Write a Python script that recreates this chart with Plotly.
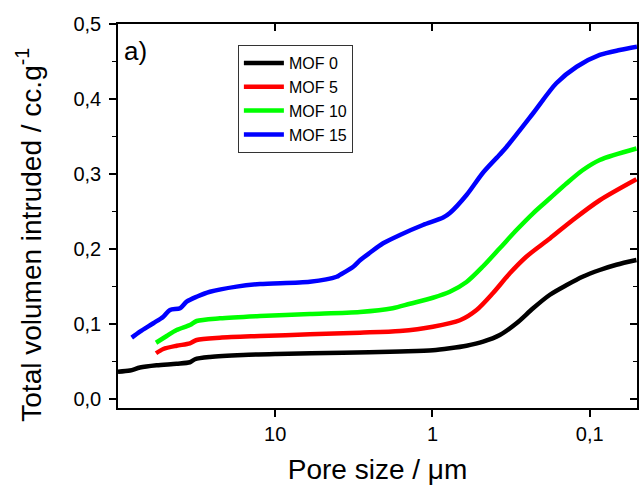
import plotly.graph_objects as go

# Pore size (µm) and cumulative intruded volume (cc/g)
mof0_x = [100, 83.9, 72.5, 56.8, 42.4, 34.9, 32.4, 26.0, 16.0, 9.80, 3.71, 1.61, 0.994,
          0.775, 0.607, 0.476, 0.373, 0.292, 0.229, 0.179, 0.140, 0.111, 0.0863, 0.0676, 0.0504]
mof0_y = [0.0364, 0.038, 0.042, 0.045, 0.047, 0.049, 0.053, 0.056, 0.0587, 0.060, 0.0617, 0.0635, 0.065,
          0.0676, 0.071, 0.0764, 0.0853, 0.101, 0.121, 0.139, 0.152, 0.163, 0.172, 0.179, 0.1853]

mof5_x = [57.3, 51.5, 42.4, 34.9, 31.6, 22.5, 12.5, 6.02, 2.89, 1.61, 0.994, 0.669, 0.524,
          0.413, 0.322, 0.252, 0.179, 0.128, 0.0863, 0.0504]
mof5_y = [0.061, 0.0667, 0.071, 0.0742, 0.0787, 0.0818, 0.084, 0.0862, 0.0884, 0.0907, 0.0964, 0.105, 0.1187,
          0.141, 0.1676, 0.19, 0.214, 0.2387, 0.265, 0.293]

mof10_x = [57.3, 49.0, 42.4, 34.9, 31.6, 22.5, 12.5, 6.02, 2.89, 1.79, 1.39, 0.994, 0.775, 0.607,
           0.476, 0.373, 0.292, 0.229, 0.179, 0.140, 0.111, 0.0863, 0.0504]
mof10_y = [0.075, 0.084, 0.092, 0.0987, 0.104, 0.1076, 0.1107, 0.1133, 0.116, 0.121, 0.127, 0.135, 0.143, 0.156,
           0.177, 0.201, 0.2253, 0.2476, 0.2676, 0.2876, 0.305, 0.3187, 0.334]

mof15_x = [81.8, 72.5, 59.6, 51.5, 46.7, 40.3, 36.6, 31.6, 26.0, 17.6, 12.5, 6.02, 4.07, 3.88, 3.19,
           2.89, 2.50, 2.06, 1.61, 1.15, 0.855, 0.775, 0.607, 0.476, 0.373, 0.338, 0.229, 0.163,
           0.121, 0.0863, 0.0644, 0.050]
mof15_y = [0.0818, 0.0898, 0.101, 0.1098, 0.1187, 0.121, 0.1298, 0.1364, 0.143, 0.1498, 0.1533, 0.1564, 0.163, 0.1655, 0.1764,
           0.185, 0.195, 0.2076, 0.2187, 0.232, 0.242, 0.248, 0.272, 0.302, 0.326, 0.336, 0.381, 0.421,
           0.443, 0.4587, 0.4653, 0.4697]

names = ["MOF 0", "MOF 5", "MOF 10", "MOF 15"]
colors = ["#000000", "#ff0000", "#00ff00", "#0000ff"]
series_x = [mof0_x, mof5_x, mof10_x, mof15_x]
series_y = [mof0_y, mof5_y, mof10_y, mof15_y]

x_tickvals = [10, 1, 0.1]
x_ticktext = ["10", "1", "0,1"]

FONT = "Liberation Sans, Arial, sans-serif"

fig = go.Figure()
for nm, c, xs, ys in zip(names, colors, series_x, series_y):
    fig.add_trace(go.Scatter(x=xs, y=ys, mode="lines", name=nm,
                             line=dict(color=c, width=4.5, shape="spline", smoothing=0.8)))

xr = [2, -1.301]
yr = [-0.012, 0.5]

fig.update_layout(
    width=641, height=485,
    margin=dict(l=118, r=4, t=24, b=77),
    plot_bgcolor="white", paper_bgcolor="white",
    separators=", ",
    font=dict(family=FONT, color="black"),
    showlegend=True,
    legend=dict(x=0.231, y=0.945, xanchor="left", yanchor="top",
                bordercolor="#333333", borderwidth=1, bgcolor="white",
                font=dict(size=16, family=FONT), tracegroupgap=0, itemwidth=40),
    xaxis=dict(type="log", range=xr, tickvals=x_tickvals, ticktext=x_ticktext,
               showgrid=False, zeroline=False, showline=True, linecolor="black", linewidth=1.6,
               ticks="outside", ticklen=7, tickwidth=1.6, tickcolor="black",
               tickfont=dict(size=20, family=FONT),
               title=dict(text="Pore size / μm", font=dict(size=28, family=FONT), standoff=17)),
    yaxis=dict(range=yr, dtick=0.1, tick0=0, tickformat=".1f",
               showgrid=False, zeroline=False, showline=True, linecolor="black", linewidth=1.6,
               ticks="outside", ticklen=7, tickwidth=1.6, tickcolor="black",
               tickfont=dict(size=20, family=FONT), ticklabelstandoff=4,
               minor=dict(dtick=0.05, tick0=0, ticks="outside", ticklen=4, tickwidth=1.4, tickcolor="black")),
    xaxis2=dict(type="log", range=xr, tickvals=x_tickvals, overlaying="x", side="top", anchor="y",
                showgrid=False, zeroline=False, showline=True, linecolor="black", linewidth=1.6,
                ticks="inside", ticklen=7, tickwidth=1.6, tickcolor="black", showticklabels=False),
    yaxis2=dict(range=yr, dtick=0.1, tick0=0, overlaying="y", side="right", anchor="x",
                showgrid=False, zeroline=False, showline=True, linecolor="black", linewidth=1.6,
                ticks="inside", ticklen=7, tickwidth=1.6, tickcolor="black", showticklabels=False,
                minor=dict(dtick=0.05, tick0=0, ticks="inside", ticklen=4, tickwidth=1.4, tickcolor="black")),
    annotations=[
        dict(text="Total volumen intruded / cc.g<sup>-1</sup>", textangle=-90,
             xref="paper", yref="paper", x=-0.1705, y=0.45, xanchor="center", yanchor="middle",
             showarrow=False, font=dict(size=28, family=FONT)),
        dict(text="a)", xref="paper", yref="paper", x=0.008, y=0.93, xanchor="left", yanchor="middle",
             showarrow=False, font=dict(size=26, family=FONT)),
    ],
)
# invisible trace to make sure the mirrored (top/right) axes are drawn
fig.add_trace(go.Scatter(x=[mof0_x[0]], y=[mof0_y[0]], xaxis="x2", yaxis="y2", mode="markers",
                         marker=dict(opacity=0), showlegend=False, hoverinfo="skip"))

fig.write_html("out.html")
